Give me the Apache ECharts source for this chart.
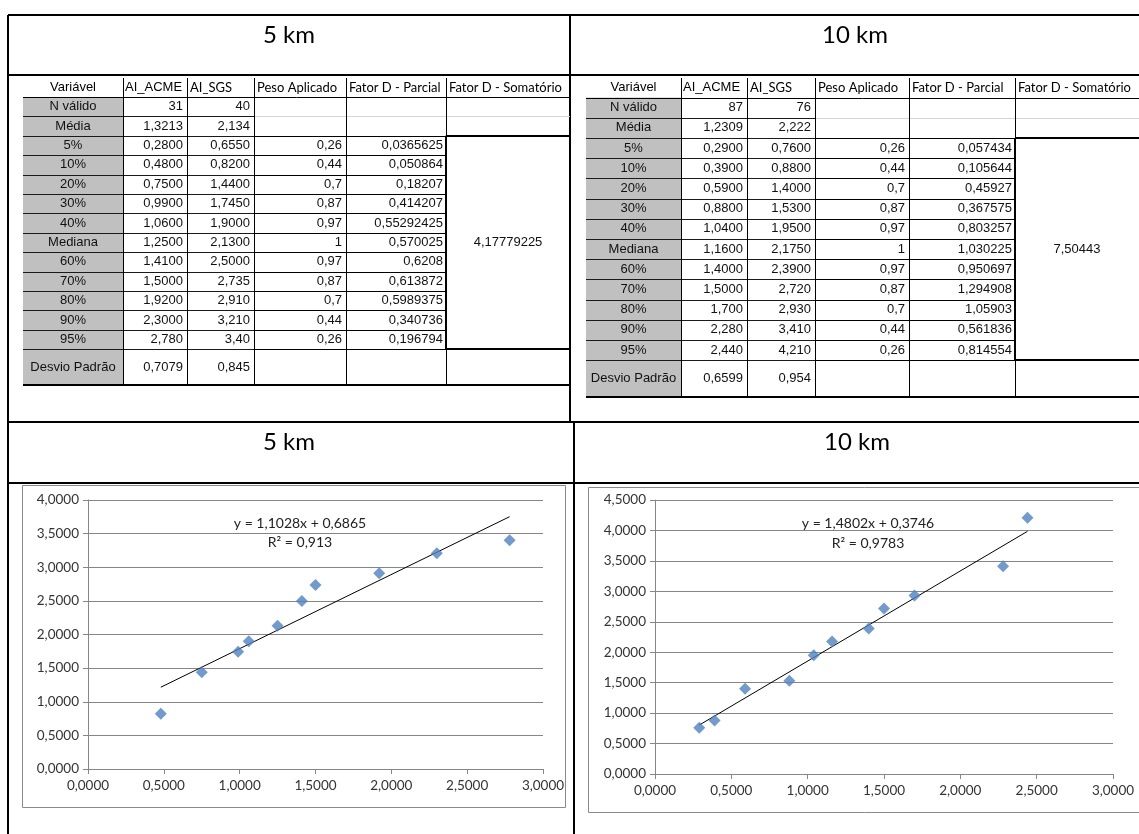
<!DOCTYPE html>
<html>
<head>
<meta charset="utf-8">
<script src="https://cdn.jsdelivr.net/npm/echarts@6/dist/echarts.min.js"></script>
<style>
  html, body { margin: 0; padding: 0; background: #fff; }
  #chart { width: 1139px; height: 834px; }
</style>
</head>
<body>
<div id="chart"></div>
<script>
// table rows (same for both tables)
const rowLabels = ['N válido', 'Média', '5%', '10%', '20%', '30%', '40%', 'Mediana', '60%', '70%', '80%', '90%', '95%', 'Desvio Padrão'];
const headers = ['Variável', 'AI_ACME', 'AI_SGS', 'Peso Aplicado', 'Fator D - Parcial', 'Fator D - Somatório'];
// weights for 5% .. 95%
const peso = ['0,26', '0,44', '0,7', '0,87', '0,97', '1', '0,97', '0,87', '0,7', '0,44', '0,26'];

// 5 km
const acme5 = ['31', '1,3213', '0,2800', '0,4800', '0,7500', '0,9900', '1,0600', '1,2500', '1,4100', '1,5000', '1,9200', '2,3000', '2,780', '0,7079'];
const sgs5 = ['40', '2,134', '0,6550', '0,8200', '1,4400', '1,7450', '1,9000', '2,1300', '2,5000', '2,735', '2,910', '3,210', '3,40', '0,845'];
const parcial5 = ['0,0365625', '0,050864', '0,18207', '0,414207', '0,55292425', '0,570025', '0,6208', '0,613872', '0,5989375', '0,340736', '0,196794'];
const soma5 = '4,17779225';
const trend5 = [[0.48, 1.216], [2.78, 3.752]];
const eq5 = ['y = 1,1028x + 0,6865', 'R² = 0,913'];

// 10 km
const acme10 = ['87', '1,2309', '0,2900', '0,3900', '0,5900', '0,8800', '1,0400', '1,1600', '1,4000', '1,5000', '1,700', '2,280', '2,440', '0,6599'];
const sgs10 = ['76', '2,222', '0,7600', '0,8800', '1,4000', '1,5300', '1,9500', '2,1750', '2,3900', '2,720', '2,930', '3,410', '4,210', '0,954'];
const parcial10 = ['0,057434', '0,105644', '0,45927', '0,367575', '0,803257', '1,030225', '0,950697', '1,294908', '1,05903', '0,561836', '0,814554'];
const soma10 = '7,50443';
const trend10 = [[0.29, 0.804], [2.44, 3.986]];
const eq10 = ['y = 1,4802x + 0,3746', 'R² = 0,9783'];

const num = s => parseFloat(s.replace(',', '.'));
// 5 km chart plots 10%..95%, 10 km chart plots 5%..95%
const pts5 = [];
for (let i = 3; i <= 12; i++) pts5.push([num(acme5[i]), num(sgs5[i])]);
const pts10 = [];
for (let i = 2; i <= 12; i++) pts10.push([num(acme10[i]), num(sgs10[i])]);

const ARIAL = '"Liberation Sans", Arial, sans-serif';
const CALIBRI = 'Lato, "Open Sans", sans-serif';

const g = [];
function hl(x1, x2, y, w, c) {
  const o = w % 2 === 1 ? 0.5 : 0;
  g.push({ type: 'line', shape: { x1: x1, y1: Math.round(y) + o, x2: x2, y2: Math.round(y) + o }, style: { stroke: c || '#000', lineWidth: w } });
}
function vl(x, y1, y2, w, c) {
  const o = w % 2 === 1 ? 0.5 : 0;
  g.push({ type: 'line', shape: { x1: Math.round(x) + o, y1: y1, x2: Math.round(x) + o, y2: y2 }, style: { stroke: c || '#000', lineWidth: w } });
}
function txt(s, x, y, align, size, font, color) {
  g.push({ type: 'text', z: 10, style: { text: s, x: x, y: y, align: align, verticalAlign: 'middle', fontSize: size, fontFamily: font, fill: color || '#000' } });
}

function buildTable(t, acme, sgs, parcial, soma) {
  const X = t.x;
  const n = rowLabels.length;
  const rowTop = i => t.top + t.headH + i * t.rowH;
  const bottom = rowTop(n - 1) + t.lastH;
  const rowMid = i => i === n - 1 ? rowTop(i) + t.lastH / 2 : rowTop(i) + t.rowH / 2;

  g.push({ type: 'rect', shape: { x: X[0], y: rowTop(0), width: X[1] - X[0], height: bottom - rowTop(0) }, style: { fill: '#c0c0c0' } });

  // horizontal rules
  hl(X[0], X[6], rowTop(0), 1, '#000');
  for (let i = 1; i < n; i++) hl(X[0], X[3], rowTop(i), 1, '#1a1a1a');
  hl(X[3], X[6], rowTop(1), 1, '#d4d4d4');
  for (let i = 3; i <= 12; i++) hl(X[3], X[5], rowTop(i), 1, '#000');
  hl(X[3], X[5], rowTop(2), 1, '#000');
  hl(X[5], X[6], rowTop(2), 2, '#000');
  hl(X[3], X[5], rowTop(13), 1, '#000');
  hl(X[5], X[6], rowTop(13), 2, '#000');
  hl(X[0], X[6], bottom, 2, '#000');

  // vertical rules
  [1, 2, 3, 4, 5].forEach(c => vl(X[c], t.top, bottom, 1, '#000'));
  vl(X[5], rowTop(2), rowTop(13), 2, '#000');

  // header
  const hy = t.top + t.headH / 2;
  txt(headers[0], (X[0] + X[1]) / 2, hy, 'center', 13, ARIAL);
  txt(headers[1], X[1] + 2, hy, 'left', 13, ARIAL);
  for (let c = 2; c < 6; c++) txt(headers[c], X[c] + 3, hy, 'left', 13, CALIBRI);

  // body
  for (let i = 0; i < n; i++) {
    const y = rowMid(i);
    txt(rowLabels[i], (X[0] + X[1]) / 2, y, 'center', 13, ARIAL, '#111');
    txt(acme[i], X[2] - 4, y, 'right', 13, ARIAL, '#111');
    txt(sgs[i], X[3] - 4, y, 'right', 13, ARIAL, '#111');
    if (i >= 2 && i <= 12) {
      txt(peso[i - 2], X[4] - 4, y, 'right', 13, ARIAL, '#111');
      txt(parcial[i - 2], X[5] - 3, y, 'right', 13, ARIAL, '#111');
    }
  }
  txt(soma, (X[5] + X[6]) / 2, (rowTop(2) + rowTop(13)) / 2, 'center', 13, ARIAL, '#111');
}

// document frame
hl(8, 1139, 15, 2);
vl(8, 15, 834, 2);
vl(570, 15, 423, 2);
vl(574, 423, 834, 2);
hl(8, 1139, 75, 2);
hl(8, 1139, 422, 2);
hl(8, 1139, 483, 2);
txt('5 km', 289, 35, 'center', 24, CALIBRI);
txt('10 km', 855, 35, 'center', 24, CALIBRI);
txt('5 km', 289, 442, 'center', 24, CALIBRI);
txt('10 km', 857, 442, 'center', 24, CALIBRI);

buildTable({ x: [23, 123, 187, 254, 346, 446, 570], top: 78, headH: 19, rowH: 19.4, lastH: 36 }, acme5, sgs5, parcial5, soma5);
buildTable({ x: [586, 681, 747, 815, 909, 1015, 1139], top: 78, headH: 19.5, rowH: 20.2, lastH: 37 }, acme10, sgs10, parcial10, soma10);

// chart frames
g.push({ type: 'rect', shape: { x: 22.5, y: 485.5, width: 543, height: 322 }, style: { fill: '#fff', stroke: '#8a8a8a', lineWidth: 1 } });
g.push({ type: 'rect', shape: { x: 588.5, y: 487.5, width: 560, height: 325 }, style: { fill: '#fff', stroke: '#8a8a8a', lineWidth: 1 } });

// trend line equations
txt(eq5[0], 300, 523, 'center', 14, CALIBRI, '#222');
txt(eq5[1], 300, 542, 'center', 14, CALIBRI, '#222');
txt(eq10[0], 868, 523, 'center', 14, CALIBRI, '#222');
txt(eq10[1], 868, 543, 'center', 14, CALIBRI, '#222');

const fmt = v => v.toFixed(4).replace('.', ',');
const axisGray = '#868686';
function xAx(i) {
  return {
    gridIndex: i, type: 'value', min: 0, max: 3, interval: 0.5,
    axisLine: { show: true, onZero: false, lineStyle: { color: axisGray } },
    axisTick: { show: true, inside: false, length: 5, lineStyle: { color: axisGray } },
    axisLabel: { formatter: fmt, color: '#333', fontFamily: CALIBRI, fontSize: 13.5, margin: 10 },
    splitLine: { show: false }
  };
}
function yAx(i, max) {
  return {
    gridIndex: i, type: 'value', min: 0, max: max, interval: 0.5,
    axisLine: { show: true, lineStyle: { color: axisGray } },
    axisTick: { show: true, inside: false, length: 5, lineStyle: { color: axisGray } },
    axisLabel: { formatter: fmt, color: '#333', fontFamily: CALIBRI, fontSize: 13.5, margin: 9 },
    splitLine: { show: true, lineStyle: { color: axisGray, width: 1 } }
  };
}

const chart = echarts.init(document.getElementById('chart'));
chart.setOption({
  animation: false,
  backgroundColor: '#fff',
  graphic: g,
  grid: [
    { left: 88, right: 1139 - 543, top: 500, bottom: 834 - 769 },
    { left: 655, right: 1139 - 1113, top: 500, bottom: 834 - 774 }
  ],
  xAxis: [xAx(0), xAx(1)],
  yAxis: [yAx(0, 4), yAx(1, 4.5)],
  series: [
    { type: 'line', xAxisIndex: 0, yAxisIndex: 0, data: trend5, symbol: 'none', lineStyle: { color: '#000', width: 1 }, z: 3 },
    { type: 'scatter', xAxisIndex: 0, yAxisIndex: 0, data: pts5, symbol: 'diamond', symbolSize: 12, itemStyle: { color: '#4F81BD' }, z: 4 },
    { type: 'line', xAxisIndex: 1, yAxisIndex: 1, data: trend10, symbol: 'none', lineStyle: { color: '#000', width: 1 }, z: 3 },
    { type: 'scatter', xAxisIndex: 1, yAxisIndex: 1, data: pts10, symbol: 'diamond', symbolSize: 12, itemStyle: { color: '#4F81BD' }, z: 4 }
  ]
});
</script>
</body>
</html>
